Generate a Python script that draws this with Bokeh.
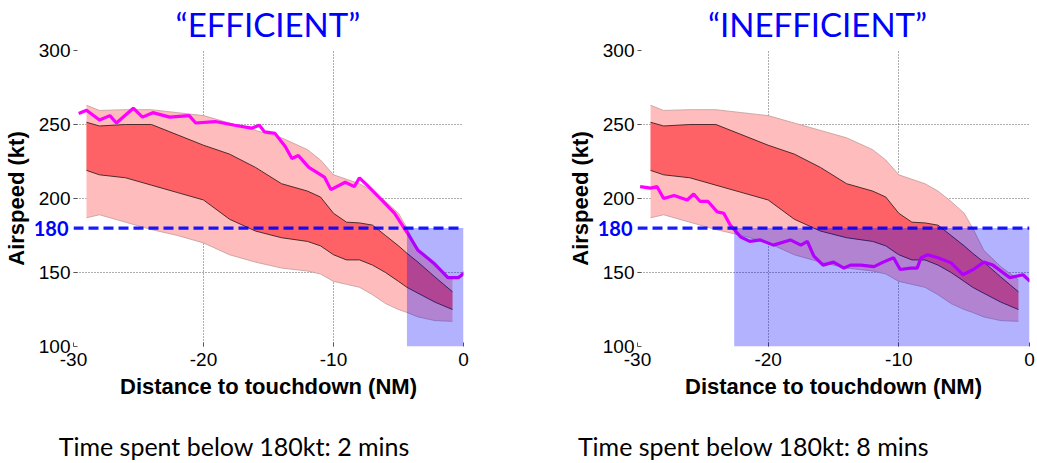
from bokeh.plotting import figure
from bokeh.layouts import row
from bokeh.models import FixedTicker, BoxAnnotation, Span, LinearAxis
from bokeh.embed import file_html
from bokeh.resources import INLINE

# ---------------- data ----------------
titles = ["\u201cEFFICIENT\u201d", "\u201cINEFFICIENT\u201d"]
footnotes = ["Time spent below 180kt: 2 mins", "Time spent below 180kt: 8 mins"]
x_ticks = [-30, -20, -10, 0]
y_ticks = [100, 150, 200, 250, 300]
x_min, x_max = -30, 0
y_min, y_max = 100, 300
threshold = 180

# percentile bands (shared by both panels)
band_x = [-29, -28, -26, -24, -22, -20, -18, -16, -14, -12, -11, -10, -9, -8, -7, -6, -5, -4.35, -3.5, -2.2, -0.85]
outer_hi = [263, 259.5, 260, 260, 258, 256, 251, 246, 241, 233, 226, 216, 213, 210, 205, 198, 190, 180, 165, 154, 145]
outer_lo = [187, 189, 184, 179, 175, 170, 162, 157, 153, 151, 149, 144, 142, 140, 135, 129, 125, 123, 120, 117.5, 117]
inner_hi = [251.5, 249, 250, 250, 243, 236, 230, 221, 210, 205, 201, 190, 184, 183.5, 182, 175, 168, 163, 157, 147, 137]
inner_lo = [219, 216, 214, 209, 204, 199, 186, 178, 173.5, 171, 168, 162, 158.5, 158.5, 155, 150, 144, 140, 136, 130, 125]

# individual flight speed profiles
eff_x = [-29.6, -29, -28, -27.2, -26.7, -25.4, -24.7, -23.9, -22.6, -21.1, -20.6, -19.1, -17.6, -16.3, -15.7,
         -15.3, -14.5, -13.7, -13.2, -12.7, -11.9, -10.7, -10.2, -9.1, -8.4, -8.0, -7.3, -6.3, -5.3, -4.3,
         -3.5, -2.3, -1.2, -0.4, 0.1]
eff_y = [257.5, 259.6, 253, 256, 251, 261, 255, 258, 255, 256, 251, 252, 249.5, 247.5, 249.5,
         245, 244, 235, 227, 229, 221, 214.5, 206, 211, 208, 214, 208, 199, 190, 176.5,
         165, 156.5, 146.5, 146.5, 150]
ineff_x = [-29.8, -29, -28.5, -28, -27.2, -26.2, -25.7, -25.2, -24.6, -23.9, -23.4, -22.9, -22.1, -21.4, -20.6,
           -19.6, -18.3, -17.5, -17.0, -16.5, -15.8, -15, -14.2, -13.7, -12.9, -11.9, -11.2, -10.4, -9.9, -9.1,
           -8.6, -8.3, -7.8, -7.0, -6.0, -5.1, -4.3, -3.5, -2.8, -1.5, -0.5, 0.05]
ineff_y = [208, 207, 208, 200, 202, 199, 203, 198, 198, 191, 190, 182, 174, 171, 172,
           168.5, 172, 168.5, 171, 161, 155, 157, 153, 155, 155, 154, 157, 160, 152, 153,
           153, 160, 162, 160, 156.5, 148.5, 152, 157, 155, 146.5, 148.5, 144]
profiles_x = [eff_x, ineff_x]
profiles_y = [eff_y, ineff_y]
below_start = [-4.35, -22.6]   # distance where speed first drops below 180 kt

# ---------------- style ----------------
TICK_FONT = "Liberation Sans"
TEXT_FONT = "Lato"
BLUE = "#0000ff"
OUTER = "#ffbcbc"
INNER = "#ff6266"
MAGENTA = "#ff00ff"


def bare_axis(**kw):
    ax = LinearAxis(**kw)
    ax.axis_line_color = None
    ax.major_tick_line_color = None
    ax.minor_tick_line_color = None
    ax.major_tick_in = 0
    ax.major_tick_out = 0
    ax.minor_tick_in = 0
    ax.minor_tick_out = 0
    return ax


def text_axis(tick, text, size, color, standoff, bold=False, font=TEXT_FONT):
    """Tick-line-less axis with one labelled tick: places a text next to the frame."""
    ax = bare_axis(ticker=FixedTicker(ticks=[tick]))
    ax.major_label_overrides = {tick: text}
    ax.major_label_standoff = standoff
    ax.major_label_text_font = font
    ax.major_label_text_font_size = size
    ax.major_label_text_font_style = "bold" if bold else "normal"
    ax.major_label_text_color = color
    return ax


def make_panel(i, width, border_left, border_right, title_x, foot_x):
    p = figure(width=width, height=463, x_range=(x_min, x_max), y_range=(y_min, y_max),
               output_backend="svg", toolbar_location=None,
               min_border_left=border_left, min_border_right=border_right,
               min_border_top=50, min_border_bottom=116)
    p.outline_line_color = None
    p.background_fill_color = "white"
    p.border_fill_color = "white"

    p.xaxis.ticker = FixedTicker(ticks=x_ticks)
    p.yaxis.ticker = FixedTicker(ticks=y_ticks)
    p.xaxis.major_label_overrides = {t: str(t) for t in x_ticks}
    for ax in (p.xaxis, p.yaxis):
        ax.axis_line_color = None
        ax.major_tick_in = 4
        ax.major_tick_out = 0
        ax.major_tick_line_color = "#555555"
        ax.minor_tick_line_color = None
        ax.major_label_text_font = TICK_FONT
        ax.major_label_text_font_size = "19px"
        ax.major_label_text_color = "black"
        ax.axis_label_text_font = TICK_FONT
        ax.axis_label_text_font_size = "22px"
        ax.axis_label_text_font_style = "bold"
        ax.axis_label_text_color = "black"
    p.xaxis.axis_label = "Distance to touchdown (NM)"
    p.xaxis.major_label_standoff = 6
    p.yaxis.major_label_standoff = 3
    p.xaxis.axis_label_standoff = 5

    p.grid.grid_line_color = "#333333"
    p.grid.grid_line_dash = "1 2"
    p.grid.grid_line_width = 1
    p.grid.grid_line_alpha = 0.8

    # outer left axis: blue "180" label pulled into the tick-label column, plus the y label
    thr_axis = text_axis(threshold, str(threshold), "20px", BLUE, -33, bold=True)
    thr_axis.axis_label = "Airspeed (kt)"
    thr_axis.axis_label_standoff = 2
    thr_axis.axis_label_text_font = TICK_FONT
    thr_axis.axis_label_text_font_size = "22px"
    thr_axis.axis_label_text_font_style = "bold"
    thr_axis.axis_label_text_color = "black"
    p.add_layout(thr_axis, "left")

    # title above, footnote below
    p.add_layout(text_axis(title_x, titles[i], "33px", BLUE, 7), "above")
    p.add_layout(text_axis(foot_x, footnotes[i], "25px", "black", 29), "below")

    # bands
    p.varea(x=band_x, y1=outer_lo, y2=outer_hi, fill_color=OUTER)
    p.line(band_x, outer_hi, line_color="#c09a9a", line_width=0.8)
    p.line(band_x, outer_lo, line_color="#c09a9a", line_width=0.8)
    p.varea(x=band_x, y1=inner_lo, y2=inner_hi, fill_color=INNER)
    p.line(band_x, inner_hi, line_color="#3a2020", line_width=0.9)
    p.line(band_x, inner_lo, line_color="#3a2020", line_width=0.9)

    # flight profile
    p.line(profiles_x[i], profiles_y[i], line_color=MAGENTA, line_width=3.2)

    # below-180 region
    p.add_layout(BoxAnnotation(left=below_start[i], right=x_max, top=threshold,
                               fill_color=BLUE, fill_alpha=0.3, line_color=None))
    p.add_layout(Span(location=threshold, dimension="width", line_color=BLUE,
                      line_width=3.2, line_dash="10 5", line_alpha=0.9))
    return p


p1 = make_panel(0, 518, 70, 55, -15.04, -17.63)
p2 = make_panel(1, 519, 119, 8, -16.22, -21.12)
layout = row(p1, p2, spacing=0)

open("out.html", "w").write(file_html(layout, INLINE))
